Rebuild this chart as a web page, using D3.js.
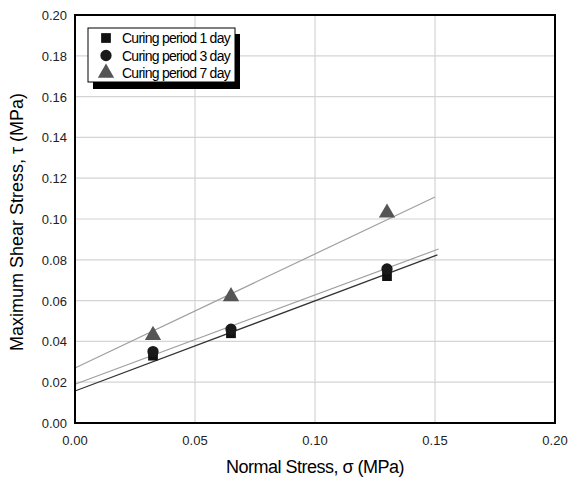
<!DOCTYPE html>
<html>
<head>
<meta charset="utf-8">
<script src="https://d3js.org/d3.v7.min.js"></script>
<style>
  body { margin: 0; background: #fff; }
  svg { display: block; font-family: "Liberation Sans", Arial, sans-serif; }
</style>
</head>
<body>
<svg id="chart" width="568" height="481"></svg>
<script>
const normalStress = [0.0325, 0.065, 0.13]
const seriesNames = ['Curing period 1 day', 'Curing period 3 day', 'Curing period 7 day']
const shear1 = [0.033, 0.044, 0.072]
const shear3 = [0.035, 0.046, 0.0755]
const shear7 = [0.043, 0.062, 0.103]
// trend lines: [value at x=0, value at line end]
const trendStart = [0.0157, 0.019, 0.027]
const trendEnd = [0.0824, 0.0853, 0.1108]
const trendEndX = [0.151, 0.1515, 0.15]
const xTicks = [0, 0.05, 0.10, 0.15, 0.20]
const yTicks = [0, 0.02, 0.04, 0.06, 0.08, 0.10, 0.12, 0.14, 0.16, 0.18, 0.20]

const plotL = 75, plotT = 15, plotR = 555, plotB = 423

const svg = d3.select('#chart')
const x = d3.scaleLinear().domain([0, 0.2]).range([plotL, plotR])
const y = d3.scaleLinear().domain([0, 0.2]).range([plotB, plotT])

// grid
svg.append('g').selectAll('line')
  .data(yTicks.slice(1, -1))
  .enter().append('line')
  .attr('x1', plotL).attr('x2', plotR)
  .attr('y1', d => y(d)).attr('y2', d => y(d))
  .style('stroke', '#d4d4d4').style('stroke-width', 1.2)

svg.append('g').selectAll('line')
  .data(xTicks.slice(1, -1))
  .enter().append('line')
  .attr('y1', plotT).attr('y2', plotB)
  .attr('x1', d => x(d)).attr('x2', d => x(d))
  .style('stroke', '#d4d4d4').style('stroke-width', 1.2)

// trend lines
const lineColors = ['#333', '#a0a0a0', '#a0a0a0']
svg.append('g').selectAll('line')
  .data([0, 1, 2])
  .enter().append('line')
  .attr('x1', x(0)).attr('y1', i => y(trendStart[i]))
  .attr('x2', i => x(trendEndX[i])).attr('y2', i => y(trendEnd[i]))
  .style('stroke', i => lineColors[i]).style('stroke-width', 1.2)

// markers
const sym = [d3.symbolSquare, d3.symbolCircle, d3.symbolTriangle]
const symSize = [95, 100, 115]
const symFill = ['#111', '#1a1a1a', '#555']
const allSeries = [shear1, shear3, shear7]

allSeries.forEach((vals, s) => {
  svg.append('g').selectAll('path')
    .data(vals)
    .enter().append('path')
    .attr('d', d3.symbol().type(sym[s]).size(symSize[s]))
    .attr('transform', (d, i) => 'translate(' + x(normalStress[i]) + ',' + y(d) + ')')
    .style('fill', symFill[s])
})

// axes labels
svg.append('g').selectAll('text')
  .data(yTicks)
  .enter().append('text')
  .attr('x', 67)
  .attr('y', d => y(d) + 5)
  .attr('text-anchor', 'end')
  .style('font-size', '13px')
  .style('fill', '#222')
  .text(d => d.toFixed(2))

svg.append('g').selectAll('text')
  .data(xTicks)
  .enter().append('text')
  .attr('x', d => x(d))
  .attr('y', 445)
  .attr('text-anchor', 'middle')
  .style('font-size', '13px')
  .style('fill', '#222')
  .text(d => d.toFixed(2))

// frame
svg.append('rect')
  .attr('x', plotL).attr('y', plotT)
  .attr('width', plotR - plotL).attr('height', plotB - plotT)
  .style('fill', 'none').style('stroke', '#000').style('stroke-width', 2)

svg.append('text')
  .attr('x', 315).attr('y', 473)
  .attr('text-anchor', 'middle')
  .style('font-size', '18px')
  .style('letter-spacing', '-0.5px')
  .text('Normal Stress, σ (MPa)')

svg.append('text')
  .attr('transform', 'translate(23,222) rotate(-90)')
  .attr('text-anchor', 'middle')
  .style('font-size', '18px')
  .text('Maximum Shear Stress, τ (MPa)')

// legend
const legend = svg.append('g')
legend.append('rect')
  .attr('x', 93).attr('y', 34).attr('width', 147).attr('height', 55)
  .style('fill', '#000')
legend.append('rect')
  .attr('x', 88).attr('y', 28).attr('width', 147).attr('height', 54)
  .style('fill', '#fff').style('stroke', '#000').style('stroke-width', 1)

const rows = legend.selectAll('g.row')
  .data(seriesNames)
  .enter().append('g')
  .attr('transform', (d, i) => 'translate(0,' + (38 + i * 17.5) + ')')

rows.append('path')
  .attr('d', (d, i) => d3.symbol().type(sym[i]).size(symSize[i])())
  .attr('transform', 'translate(106,0)')
  .style('fill', (d, i) => symFill[i])

rows.append('text')
  .attr('x', 122).attr('y', 5)
  .style('font-size', '14px')
  .style('letter-spacing', '-0.75px')
  .text(d => d)
</script>
</body>
</html>
